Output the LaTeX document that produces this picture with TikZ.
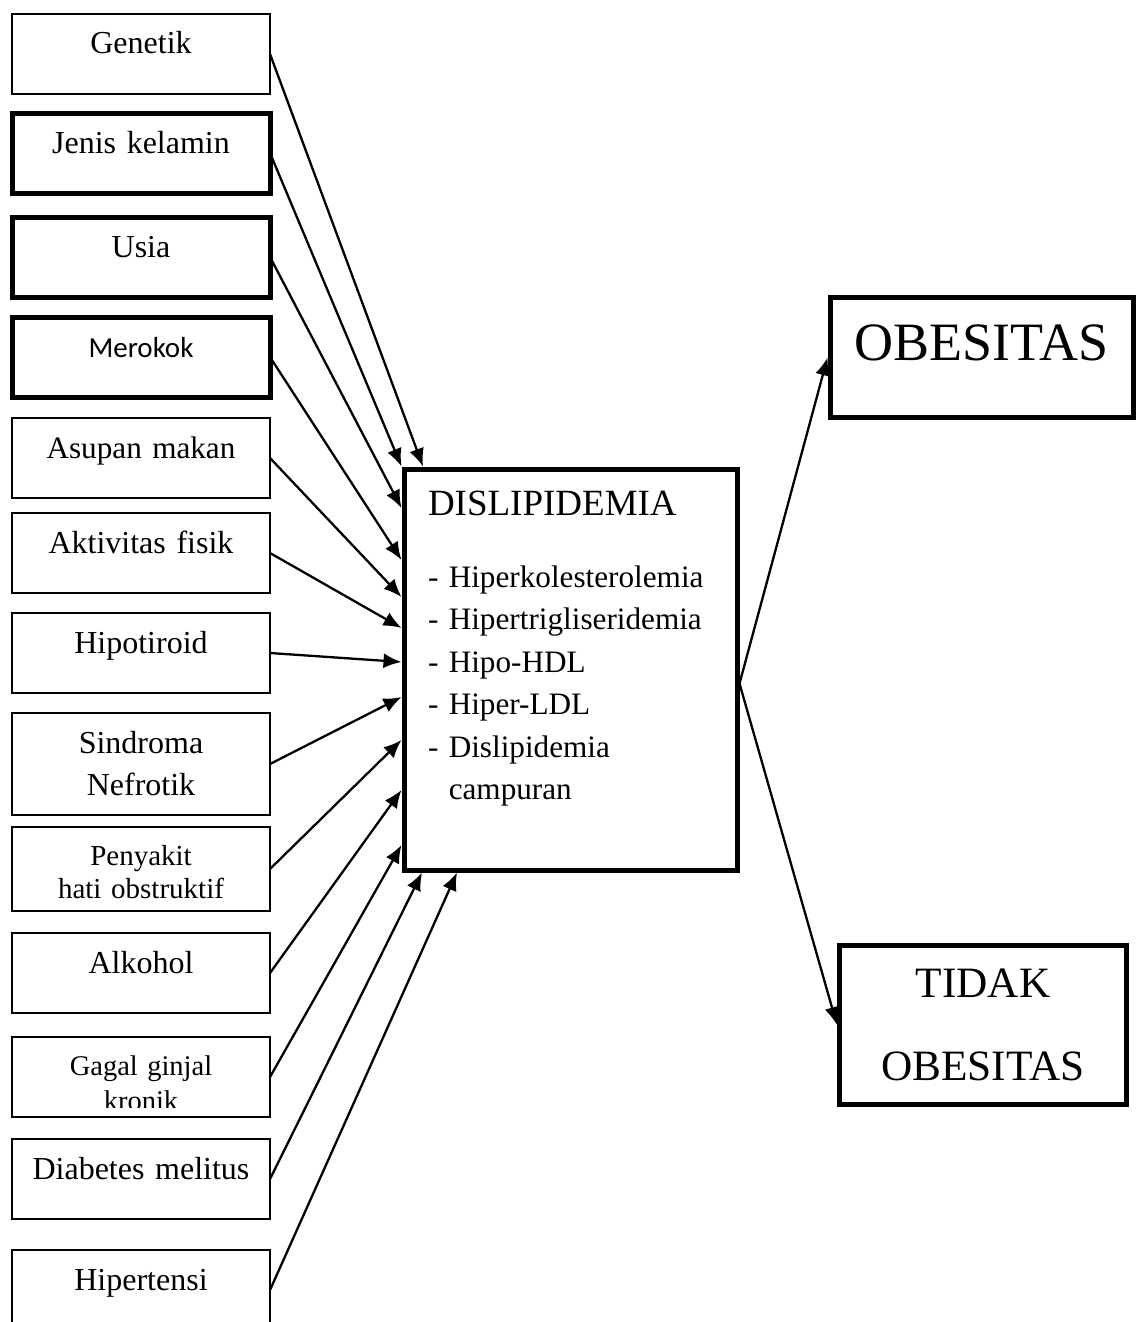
\documentclass[tikz,border=0pt]{standalone}
\usepackage{fontspec}
\setmainfont{Liberation Serif}
\newfontfamily\calibri{Carlito}
\usepackage{tikz}
\usetikzlibrary{arrows.meta,positioning}
\hyphenpenalty=10000

\begin{document}
\begin{tikzpicture}[x=1pt, y=-1pt, line width=2.3pt, >={Latex[length=18pt,width=15pt]}]
                \tikzstyle{factor} = [draw, rectangle, line width=1.8pt, inner sep=0pt, outer sep=0pt, text width=258pt, align=center, text height=40pt, text depth=40pt, font=\fontsize{32}{42}\selectfont]
                \tikzstyle{heavy} = [line width=5pt]
                \tikzstyle{result} = [draw, rectangle, heavy, inner sep=0pt, align=center, anchor=north west]

                \useasboundingbox (0,0) rectangle (1136,1322);

                % faktor risiko
                \node [factor, anchor=north west] (genetik) at (12,14) {Genetik};
                \node [factor, heavy, below = 19pt of genetik] (kelamin) {Jenis kelamin};
                \node [factor, heavy, below = 24pt of kelamin] (usia) {Usia};
                \node [factor, heavy, below = 20pt of usia, font=\calibri\fontsize{29}{35}\selectfont] (merokok) {Merokok};
                \node [factor, below = 21pt of merokok, font=\fontsize{31.2}{42}\selectfont] (asupan) {Asupan makan};
                \node [factor, below = 15pt of asupan] (aktivitas) {Aktivitas fisik};
                \node [factor, below = 20pt of aktivitas] (hipotiroid) {Hipotiroid};
                \node [factor, below = 20pt of hipotiroid, text depth=62pt] (nefrotik) {Sindroma\\Nefrotik};
                \node [factor, below = 12pt of nefrotik, text height=38pt, text depth=46pt, font=\fontsize{29}{33}\selectfont] (hati) {Penyakit\\hati obstruktif};
                \node [factor, below = 22pt of hati] (alkohol) {Alkohol};
                \node [factor, below = 24pt of alkohol] (ginjal) {};
                \begin{scope}
                \clip (ginjal.north west) rectangle ([yshift=10pt]ginjal.south east);
                \node [factor, draw=none, text height=38pt, font=\fontsize{28.5}{35}\selectfont, anchor=north] (ginjal-text) at (ginjal.north) {Gagal ginjal\\kronik};
                \end{scope}
                \node [factor, below = 22pt of ginjal] (diabetes) {Diabetes melitus};
                \node [factor, below = 31pt of diabetes] (hipertensi) {Hipertensi};

                % dislipidemia dan hasil
                \node [result, text width=285pt, inner xsep=24pt, align=left, text height=46pt, text depth=355pt, font=\fontsize{31.2}{42.5}\selectfont] (dislip) at (401.5,466.5) {{\fontsize{37}{42.5}\selectfont DISLIPIDEMIA}\\[29.5pt]
                - Hiperkolesterolemia\\
                - Hipertrigliseridemia\\
                - Hipo-HDL\\
                - Hiper-LDL\\
                - Dislipidemia\\
                \phantom{- }campuran};
                \node [result, text width=303pt, text height=62.5pt, text depth=57.5pt, font=\fontsize{54}{60}\selectfont] (obesitas) at (827.5,295) {OBESITAS};
                \node [result, text width=287pt, text height=51.5pt, text depth=107.5pt, font=\fontsize{43.3}{83}\selectfont] (tidak) at (837,943) {TIDAK\\OBESITAS};

                \draw [->] (genetik.east) -- ([xshift=21.5pt]dislip.north west);
                \draw [->] (kelamin.east) -- (dislip.north west);
                \draw [->] (usia.east) -- ([yshift=-41.5pt]dislip.north west);
                \draw [->] (merokok.east) -- ([yshift=-93.5pt]dislip.north west);
                \draw [->] (asupan.east) -- ([yshift=-130.5pt]dislip.north west);
                \draw [->] (aktivitas.east) -- ([yshift=-161.5pt]dislip.north west);
                \draw [->] (hipotiroid.east) -- ([yshift=-195.5pt]dislip.north west);
                \draw [->] (nefrotik.east) -- ([yshift=-230.5pt]dislip.north west);
                \draw [->] (hati.east) -- ([yshift=-273.5pt]dislip.north west);
                \draw [->] (alkohol.east) -- ([yshift=-323.5pt]dislip.north west);
                \draw [->] (ginjal.east) -- ([yshift=-378.5pt]dislip.north west);
                \draw [->] (diabetes.east) -- ([xshift=20.5pt]dislip.south west);
                \draw [->] (hipertensi.east) -- ([xshift=55.5pt]dislip.south west);
                \draw [->] ([yshift=-14pt]dislip.east) -- (obesitas.west);
                \draw [->] ([yshift=-14pt]dislip.east) -- (tidak.west);
\end{tikzpicture}
\end{document}
